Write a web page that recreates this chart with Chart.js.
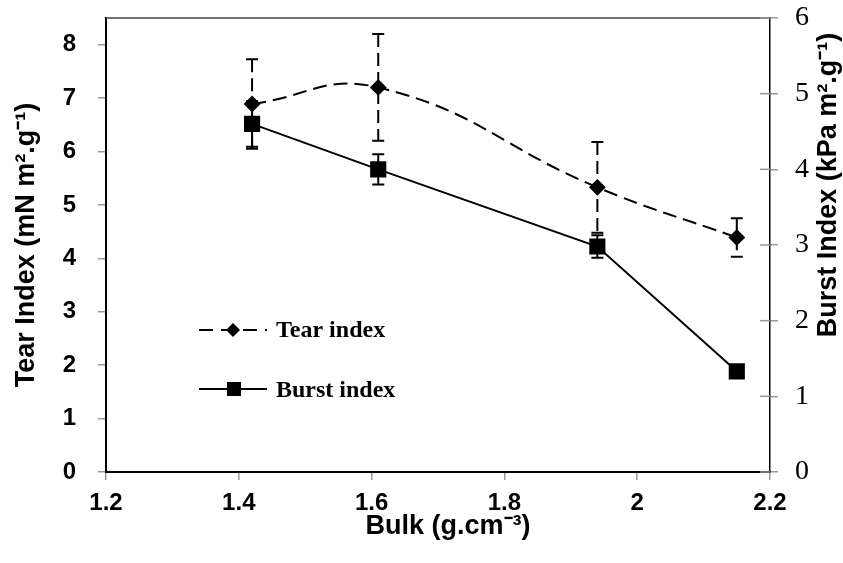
<!DOCTYPE html>
<html>
<head>
<meta charset="utf-8">
<script src="https://cdn.jsdelivr.net/npm/chart.js@4.4.1/dist/chart.umd.min.js"></script>
<style>
  html, body { margin: 0; padding: 0; background: #fff; }
  #wrap { width: 843px; height: 563px; position: relative; }
</style>
</head>
<body>
<div id="wrap"><canvas id="c" width="843" height="563"></canvas></div>
<script>
// ---- data ----
const bulk = [1.42, 1.61, 1.94, 2.15];
const tearIndex = [6.89, 7.20, 5.33, 4.39];
const tearErr = [0.84, 1.00, 0.85, 0.36];
const burstIndex = [4.60, 4.00, 2.98, 1.33];
const burstErr = [0.30, 0.20, 0.15, 0.00];
const xTicks = [1.2, 1.4, 1.6, 1.8, 2.0, 2.2];
const leftTicks = [0, 1, 2, 3, 4, 5, 6, 7, 8];
const rightTicks = [0, 1, 2, 3, 4, 5, 6];
const seriesNames = ['Tear index', 'Burst index'];
const xTitle = 'Bulk (g.cm\u207B\u00B3)';
const leftTitle = 'Tear Index (mN m\u00B2.g\u207B\u00B9)';
const rightTitle = 'Burst Index (kPa m\u00B2.g\u207B\u00B9)';

const SANS = "'Liberation Sans', Arial, sans-serif";
const SERIF = "'Liberation Serif', 'Times New Roman', serif";

const tearData = bulk.map((x, i) => ({ x: x, y: tearIndex[i] }));
const burstData = bulk.map((x, i) => ({ x: x, y: burstIndex[i] }));

function noPad(s) { s.paddingTop = 0; s.paddingBottom = 0; s.paddingLeft = 0; s.paddingRight = 0; }

const decorPlugin = {
  id: 'decor',
  afterDatasetsDraw(chart) {
    const ctx = chart.ctx;
    const xs = chart.scales.x, yl = chart.scales.yL, yr = chart.scales.yR;
    const area = chart.chartArea;
    ctx.save();
    // error bars
    function errBar(x, y, e, scale, dashed) {
      if (!e) return;
      const px = xs.getPixelForValue(x);
      const top = scale.getPixelForValue(y + e);
      const bot = scale.getPixelForValue(y - e);
      ctx.strokeStyle = '#000';
      ctx.lineWidth = 2;
      ctx.setLineDash(dashed ? [13, 6] : []);
      ctx.beginPath(); ctx.moveTo(px, top); ctx.lineTo(px, bot); ctx.stroke();
      ctx.setLineDash([]);
      ctx.beginPath();
      ctx.moveTo(px - 6, top); ctx.lineTo(px + 6, top);
      ctx.moveTo(px - 6, bot); ctx.lineTo(px + 6, bot);
      ctx.stroke();
    }
    bulk.forEach((x, i) => errBar(x, tearIndex[i], tearErr[i], yl, true));
    bulk.forEach((x, i) => errBar(x, burstIndex[i], burstErr[i], yr, false));

    // top border
    ctx.strokeStyle = '#444';
    ctx.lineWidth = 1.5;
    ctx.beginPath(); ctx.moveTo(area.left, area.top); ctx.lineTo(area.right, area.top); ctx.stroke();
    // inner ticks on right axis
    ctx.strokeStyle = '#999';
    ctx.lineWidth = 1.5;
    rightTicks.forEach(v => {
      const py = yr.getPixelForValue(v);
      ctx.beginPath(); ctx.moveTo(area.right - 10, py); ctx.lineTo(area.right, py); ctx.stroke();
    });

    // legend
    const lx0 = 199, lx1 = 267;
    const ly1 = 330, ly2 = 389;
    ctx.strokeStyle = '#000';
    ctx.lineWidth = 2;
    ctx.setLineDash([14, 8]);
    ctx.beginPath(); ctx.moveTo(lx0, ly1); ctx.lineTo(lx1, ly1); ctx.stroke();
    ctx.setLineDash([]);
    ctx.beginPath(); ctx.moveTo(lx0, ly2); ctx.lineTo(lx1, ly2); ctx.stroke();
    ctx.fillStyle = '#000';
    ctx.beginPath();
    ctx.moveTo(233, ly1 - 7); ctx.lineTo(240, ly1); ctx.lineTo(233, ly1 + 7); ctx.lineTo(226, ly1); ctx.closePath(); ctx.fill();
    ctx.fillRect(234 - 7, ly2 - 7, 14, 14);
    ctx.font = "bold 24px " + SERIF;
    ctx.textAlign = 'left';
    ctx.textBaseline = 'alphabetic';
    ctx.fillText(seriesNames[0], 276, 337);
    ctx.fillText(seriesNames[1], 276, 397);

    // axis titles
    ctx.font = "bold 27px " + SANS;
    ctx.textAlign = 'center';
    ctx.textBaseline = 'middle';
    ctx.fillText(xTitle, 448, 527);
    ctx.save();
    ctx.translate(27, 245);
    ctx.rotate(-Math.PI / 2);
    ctx.fillText(leftTitle, 0, 0);
    ctx.restore();
    ctx.save();
    ctx.translate(829, 185);
    ctx.rotate(-Math.PI / 2);
    ctx.fillText(rightTitle, 0, 0);
    ctx.restore();
    ctx.restore();
  }
};

new Chart(document.getElementById('c'), {
  type: 'line',
  data: {
    datasets: [
      {
        label: seriesNames[0],
        data: tearData,
        yAxisID: 'yL',
        borderColor: '#000',
        backgroundColor: '#000',
        borderWidth: 2,
        borderDash: [14, 7],
        tension: 0.45,
        pointStyle: 'rectRot',
        pointRadius: 7,
        pointHoverRadius: 7,
        fill: false
      },
      {
        label: seriesNames[1],
        data: burstData,
        yAxisID: 'yR',
        borderColor: '#000',
        backgroundColor: '#000',
        borderWidth: 2,
        tension: 0,
        pointStyle: 'rect',
        pointRadius: 10,
        pointHoverRadius: 10,
        fill: false
      }
    ]
  },
  options: {
    responsive: false,
    animation: false,
    events: [],
    layout: { padding: { top: 18, left: 0, right: 0, bottom: 0 } },
    plugins: { legend: { display: false }, tooltip: { enabled: false } },
    scales: {
      x: {
        type: 'linear',
        min: 1.2, max: 2.2,
        afterBuildTicks: s => { s.ticks = xTicks.map(v => ({ value: v })); },
        afterFit: s => { s.height = 91; noPad(s); },
        ticks: {
          font: { family: SANS, size: 24, weight: 'bold' },
          color: '#000',
          padding: 9,
          maxRotation: 0,
          callback: v => String(Math.round(v * 10) / 10)
        },
        grid: { display: true, drawOnChartArea: false, drawTicks: true, tickLength: 8, color: '#999', lineWidth: 1.5 },
        border: { display: true, color: '#000', width: 2 }
      },
      yL: {
        type: 'linear',
        position: 'left',
        min: 0, max: 8.5,
        afterBuildTicks: s => { s.ticks = leftTicks.map(v => ({ value: v })); },
        afterFit: s => { s.width = 106; noPad(s); },
        ticks: {
          font: { family: SANS, size: 24, weight: 'bold' },
          color: '#000',
          padding: 22
        },
        grid: { display: true, drawOnChartArea: false, drawTicks: true, tickLength: 8, color: '#999', lineWidth: 1.5 },
        border: { display: true, color: '#000', width: 2 }
      },
      yR: {
        type: 'linear',
        position: 'right',
        min: 0, max: 6,
        afterBuildTicks: s => { s.ticks = rightTicks.map(v => ({ value: v })); },
        afterFit: s => { s.width = 73; noPad(s); },
        ticks: {
          font: { family: SERIF, size: 28 },
          color: '#000',
          padding: 17
        },
        grid: { display: true, drawOnChartArea: false, drawTicks: true, tickLength: 8, color: '#999', lineWidth: 1.5 },
        border: { display: true, color: '#000', width: 1.5 }
      }
    }
  },
  plugins: [decorPlugin]
});
</script>
</body>
</html>
